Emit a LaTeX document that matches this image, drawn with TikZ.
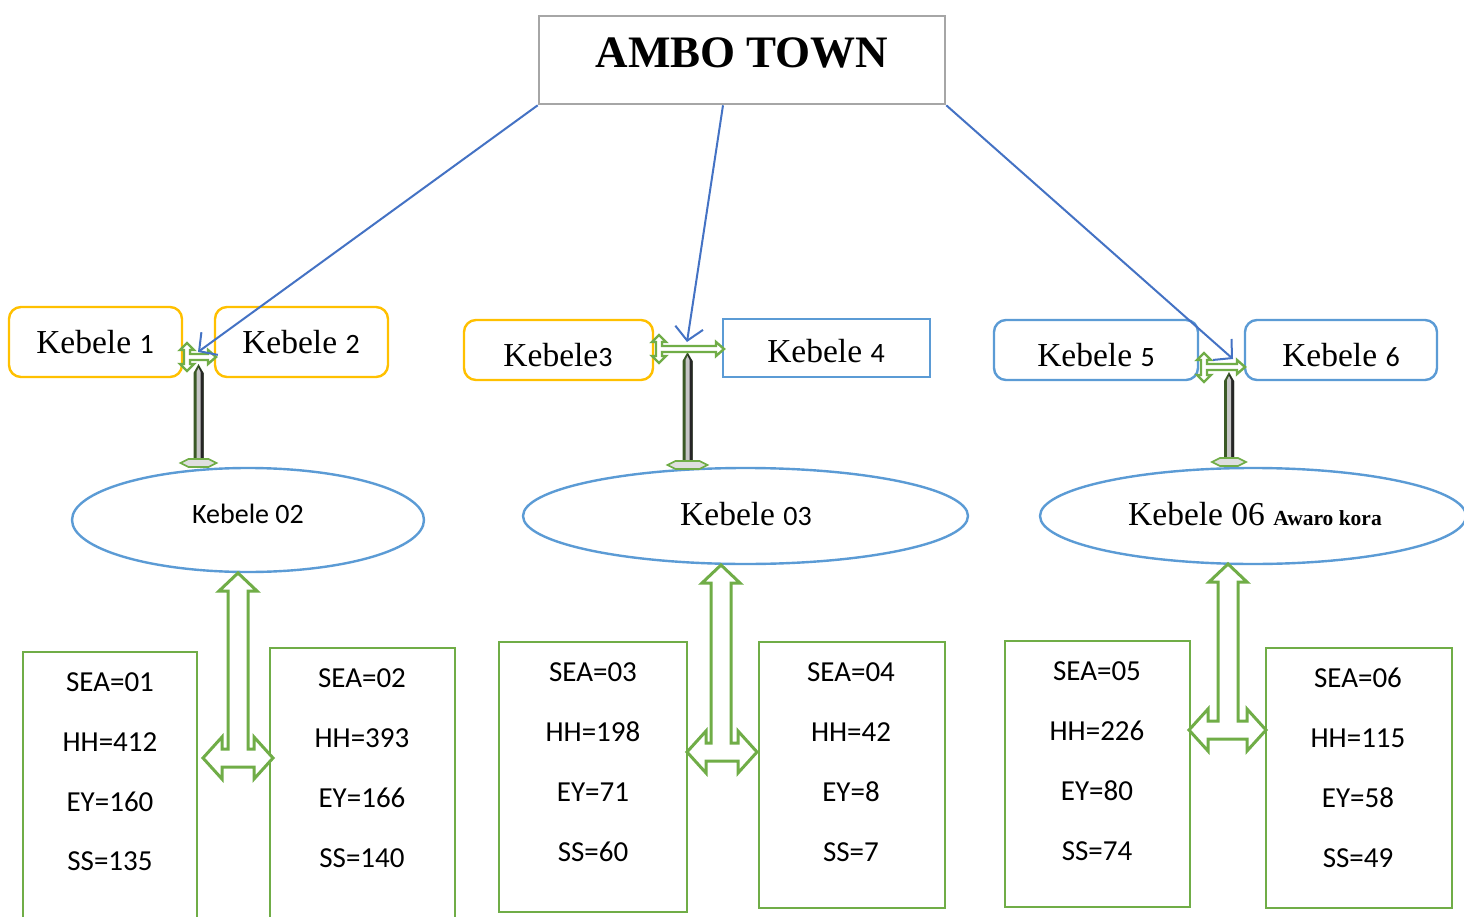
\documentclass[tikz,border=0pt]{standalone}
\usepackage{fontspec}
\setmainfont{Liberation Serif}
\newfontfamily\calfont{Carlito}
\usetikzlibrary{arrows.meta,shapes.geometric}
\definecolor{kor}{HTML}{FFC000}
\definecolor{kbl}{HTML}{5B9BD5}
\definecolor{kgr}{HTML}{70AD47}
\definecolor{kgy}{HTML}{A6A6A6}
\definecolor{kar}{HTML}{4472C4}
\definecolor{kdk}{HTML}{3B5A26}
\newcommand\kdig[1]{{\calfont\fontsize{28}{30}\selectfont #1}}
% T-shaped block arrow: cx, ytop, hy, xl, xr
\newcommand\Tarrow[5]{%
  \draw[tarrow] (#1,#2) -- ({#1+19},{#2+18}) -- ({#1+10},{#2+18}) -- ({#1+10},{#3-9})
   -- ({#5-19},{#3-9}) -- ({#5-19},{#3-21}) -- (#5,#3) -- ({#5-19},{#3+21}) -- ({#5-19},{#3+9})
   -- ({#4+19},{#3+9}) -- ({#4+19},{#3+21}) -- (#4,#3) -- ({#4+19},{#3-21}) -- ({#4+19},{#3-9})
   -- ({#1-10},{#3-9}) -- ({#1-10},{#2+18}) -- ({#1-19},{#2+18}) -- cycle;}
% small cross arrow: vx, y, xr, vtop, vbot
\newcommand\crosspath[5]{%
  (#1,#4) -- ({#1+7},{#4+7}) -- ({#1+3},{#4+7}) -- ({#1+3},{#2-3}) -- ({#3-8},{#2-3}) -- ({#3-8},{#2-7})
  -- (#3,#2) -- ({#3-8},{#2+7}) -- ({#3-8},{#2+3}) -- ({#1+3},{#2+3}) -- ({#1+3},{#5-7}) -- ({#1+7},{#5-7})
  -- (#1,#5) -- ({#1-7},{#5-7}) -- ({#1-3},{#5-7}) -- ({#1-3},{#4+7}) -- ({#1-7},{#4+7}) -- cycle}
\newcommand\crossarrow[5]{%
  \draw[kgr, line width=2.4pt, line join=miter, fill=white] \crosspath{#1}{#2}{#3}{#4}{#5};}
% dark post: x, top, bottom, base half width
\newcommand\post[4]{%
  \fill[kdk] ({#1-5},#3) -- ({#1-5},{#2+9}) -- (#1,#2) -- ({#1+5},{#2+9}) -- ({#1+5},#3) -- cycle;
  \fill[black!85] (#1,{#2+2}) -- ({#1+5},{#2+9}) -- ({#1+5},#3) -- (#1,#3) -- cycle;
  \fill[gray!45] ({#1-2},#3) -- ({#1-2},{#2+8}) -- (#1,{#2+4}) -- ({#1+2},{#2+8}) -- ({#1+2},#3) -- cycle;
  \draw[kgr, line width=1.6pt, fill=gray!25] ({#1-#4},#3) -- ({#1-#4+8},{#3-4}) -- ({#1+#4-8},{#3-4}) -- ({#1+#4},#3)
     -- ({#1+#4-8},{#3+4}) -- ({#1-#4+8},{#3+4}) -- cycle;}
\tikzset{
  orbox/.style={draw=kor, line width=2.4pt, rounded corners=12pt, inner sep=0pt},
  blbox/.style={draw=kbl, line width=2.4pt, rounded corners=12pt, inner sep=0pt},
  blsq/.style={draw=kbl, line width=2.4pt, inner sep=0pt},
  ell/.style={draw=kbl, line width=2.4pt, ellipse, inner sep=0pt},
  gbox/.style={draw=kgr, line width=2.8pt, inner sep=0pt},
  ktxt/.style={anchor=base, inner sep=0pt, font=\fontsize{33.5}{36}\selectfont},
  vtxt/.style={anchor=center, inner sep=0pt, font=\calfont\fontsize{29}{32}\selectfont},
  tarrow/.style={draw=kgr, line width=3pt, fill=white, line join=miter},
  link/.style={draw=kar, line width=2pt, -{Straight Barb[length=13pt,width=28pt,line width=2pt]}}
}
\begin{document}
\begin{tikzpicture}[x=1pt,y=-1pt]
\useasboundingbox (0,0) rectangle (1464,917);
\clip (0,0) rectangle (1464,917);
\fill[white] (0,0) rectangle (1464,917);

% top
\node[draw=kgy, line width=2.6pt, minimum width=406pt, minimum height=88pt, inner sep=0pt] (ambo) at (742,60) {};
\node[anchor=base, inner sep=0pt, font=\bfseries\fontsize{45}{48}\selectfont] (ambot) at (742,68) {AMBO TOWN};

% kebele boxes
\node[orbox, minimum width=173pt, minimum height=70pt] (k1) at (95.5,342) {};
\node[orbox, minimum width=173pt, minimum height=70pt] (k2) at (301.5,342) {};
\node[orbox, minimum width=189pt, minimum height=60pt] (k3) at (558.5,350) {};
\node[blsq, minimum width=207pt, minimum height=58pt] (k4) at (826.5,348) {};
\node[blbox, minimum width=204pt, minimum height=60pt] (k5) at (1096,350) {};
\node[blbox, minimum width=192pt, minimum height=60pt] (k6) at (1341,350) {};
\node[ktxt] (k1t) at (95,353) {Kebele \kdig{1}};
\node[ktxt] (k2t) at (301,353) {Kebele \kdig{2}};
\node[ktxt] (k3t) at (558,366) {Kebele\kdig{3}};
\node[ktxt] (k4t) at (826,362) {Kebele \kdig{4}};
\node[ktxt] (k5t) at (1096,366) {Kebele \kdig{5}};
\node[ktxt] (k6t) at (1341,366) {Kebele \kdig{6}};

% ellipses
\node[ell, minimum width=352pt, minimum height=104pt] (e1) at (248,520) {};
\node[ell, minimum width=445pt, minimum height=96pt] (e2) at (745.5,516) {};
\node[ell, minimum width=426pt, minimum height=96pt] (e3) at (1253,516) {};
\node[anchor=base, inner sep=0pt, font=\calfont\fontsize{28}{30}\selectfont] (e1t) at (248,523) {Kebele 02};
\node[ktxt] (e2t) at (746,525) {Kebele \kdig{03}};
\node[ktxt] (e3t) at (1255,525) {Kebele 06 {\bfseries\fontsize{21.5}{24}\selectfont Awaro kora}};

% posts between kebele pairs and ellipses
\post{198.5}{364}{463}{18}
\post{687.5}{352}{465}{20}
\post{1229}{372}{462}{17}
\crossarrow{187}{357}{216}{343}{371}
\crossarrow{659}{349}{724}{335}{363}
\crossarrow{1204}{367}{1245}{353}{382}

% blue links
\coordinate (t1) at (198,352);
\coordinate (t2) at (687,342);
\coordinate (t3) at (1233,359);
\draw[link] (ambo.south west) -- (t1);
\draw[link] ([xshift=-19pt]ambo.south) -- (t2);
\draw[link] (ambo.south east) -- (t3);

% bottom boxes
\node[gbox, minimum width=174pt, minimum height=300pt] (b1) at (110,802) {};
\node[gbox, minimum width=185pt, minimum height=300pt] (b2) at (362.5,798) {};
\node[gbox, minimum width=188pt, minimum height=270pt] (b3) at (593,777) {};
\node[gbox, minimum width=186pt, minimum height=266pt] (b4) at (852,775) {};
\node[gbox, minimum width=185pt, minimum height=266pt] (b5) at (1097.5,774) {};
\node[gbox, minimum width=186pt, minimum height=260pt] (b6) at (1359,778) {};

\node[vtxt] (s1a) at (110,682) {SEA=01};
\node[vtxt] (s1b) at (110,742) {HH=412};
\node[vtxt] (s1c) at (110,802) {EY=160};
\node[vtxt] (s1d) at (110,861) {SS=135};
\node[vtxt] (s2a) at (362,678) {SEA=02};
\node[vtxt] (s2b) at (362,738) {HH=393};
\node[vtxt] (s2c) at (362,798) {EY=166};
\node[vtxt] (s2d) at (362,858) {SS=140};
\node[vtxt] (s3a) at (593,672) {SEA=03};
\node[vtxt] (s3b) at (593,732) {HH=198};
\node[vtxt] (s3c) at (593,792) {EY=71};
\node[vtxt] (s3d) at (593,852) {SS=60};
\node[vtxt] (s4a) at (851,672) {SEA=04};
\node[vtxt] (s4b) at (851,732) {HH=42};
\node[vtxt] (s4c) at (851,792) {EY=8};
\node[vtxt] (s4d) at (851,852) {SS=7};
\node[vtxt] (s5a) at (1097,671) {SEA=05};
\node[vtxt] (s5b) at (1097,731) {HH=226};
\node[vtxt] (s5c) at (1097,791) {EY=80};
\node[vtxt] (s5d) at (1097,851) {SS=74};
\node[vtxt] (s6a) at (1358,678) {SEA=06};
\node[vtxt] (s6b) at (1358,738) {HH=115};
\node[vtxt] (s6c) at (1358,798) {EY=58};
\node[vtxt] (s6d) at (1358,858) {SS=49};

% T arrows
\Tarrow{238}{573}{758}{203}{273}
\Tarrow{721}{565}{752}{687}{757}
\Tarrow{1228}{564}{730}{1189}{1266}
\end{tikzpicture}
\end{document}
